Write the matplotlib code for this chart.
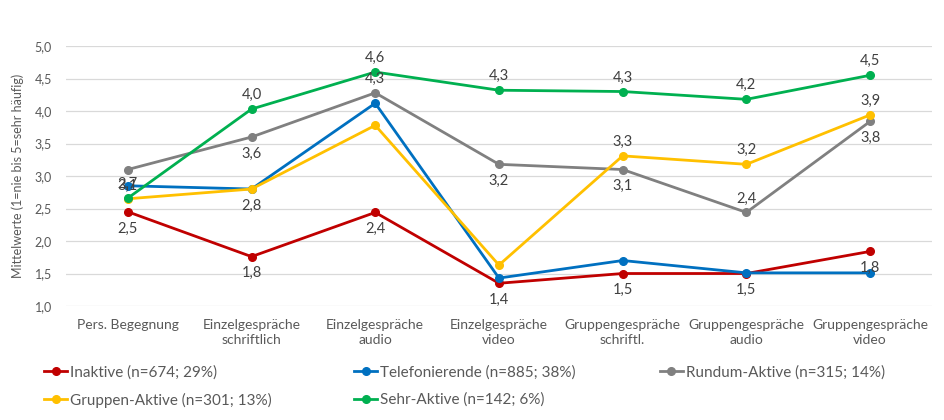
import numpy as np
import matplotlib
matplotlib.use("Agg")
import matplotlib.pyplot as plt
from matplotlib.ticker import FuncFormatter

plt.rcParams['font.family'] = ['Lato', 'DejaVu Sans']

CATEGORIES = ["Pers. Begegnung", "Einzelgespräche\nschriftlich", "Einzelgespräche\naudio",
              "Einzelgespräche\nvideo", "Gruppengespräche\nschriftl.", "Gruppengespräche\naudio",
              "Gruppengespräche\nvideo"]

SERIES_NAMES = ["Inaktive (n=674; 29%)", "Telefonierende (n=885; 38%)", "Rundum-Aktive (n=315; 14%)",
                "Gruppen-Aktive (n=301; 13%)", "Sehr-Aktive (n=142; 6%)"]

INAKTIVE       = [2.45, 1.76, 2.44, 1.35, 1.50, 1.50, 1.84]
TELEFONIERENDE = [2.85, 2.80, 4.12, 1.43, 1.70, 1.51, 1.51]
RUNDUM_AKTIVE  = [3.10, 3.60, 4.28, 3.18, 3.10, 2.44, 3.84]
GRUPPEN_AKTIVE = [2.65, 2.80, 3.78, 1.63, 3.31, 3.18, 3.94]
SEHR_AKTIVE    = [2.66, 4.03, 4.60, 4.32, 4.30, 4.18, 4.55]

# which points carry a data label: "a" = above, "b" = below, None = no label
LABELS_INAKTIVE = ["b"] * 7
LABELS_TELEFON  = [None] * 7
LABELS_RUNDUM   = ["b", "b", "a", "b", "b", "a", "b"]
LABELS_GRUPPEN  = [None, "b", None, None, "a", "a", "a"]
LABELS_SEHR     = ["a"] * 7

COLORS = ["#C00000", "#0070C0", "#808080", "#FFC000", "#00B050"]

###############################################################################

def comma(v, pos=None):
    ''' German decimal format with one digit '''
    return f"{v:.1f}".replace('.', ',')

fig = plt.figure(figsize=(9.45, 4.2), dpi=100)
ax = fig.add_axes([0.0698, 0.2714, 0.9164, 0.619])

values = [INAKTIVE, TELEFONIERENDE, RUNDUM_AKTIVE, GRUPPEN_AKTIVE, SEHR_AKTIVE]
labels = [LABELS_INAKTIVE, LABELS_TELEFON, LABELS_RUNDUM, LABELS_GRUPPEN, LABELS_SEHR]
x = np.arange(len(CATEGORIES))

handles = []
for i, (vals, labs, name, col) in enumerate(zip(values, labels, SERIES_NAMES, COLORS)):
    h, = ax.plot(x, vals, color=col, lw=2.0, marker='o', markersize=5.5, label=name,
                 zorder=3 + i, solid_joinstyle='round')
    handles.append(h)
    for xi, v, lab in zip(x, vals, labs):
        if lab is None:
            continue
        if lab == "a":
            ax.annotate(comma(v), (xi, v), xytext=(0, 5), textcoords='offset points',
                        ha='center', va='bottom', fontsize=10.5, color='#404040', zorder=10)
        else:
            ax.annotate(comma(v), (xi, v), xytext=(0, -7), textcoords='offset points',
                        ha='center', va='top', fontsize=10.5, color='#404040', zorder=10)

ax.set_xlim(-0.5, len(CATEGORIES) - 0.5)
ax.set_ylim(1.0, 5.0)
ax.set_yticks(np.arange(1.0, 5.01, 0.5))
ax.yaxis.set_major_formatter(FuncFormatter(comma))
ax.set_xticks(x)
ax.set_xticklabels(CATEGORIES, fontsize=10, color='#595959', linespacing=1.35)
ax.tick_params(axis='y', labelsize=9, colors='#595959', length=0, pad=10)
ax.tick_params(axis='x', length=0, pad=9)
ax.grid(axis='y', color='#D9D9D9', lw=0.9)
ax.set_axisbelow(True)
for s in ax.spines.values():
    s.set_visible(False)

ax.set_ylabel("Mittelwerte (1=nie bis 5=sehr häufig)", fontsize=9, color='#595959', labelpad=8)

# legend in three fixed-width columns, filled row by row
columns = [[0, 3], [1, 4], [2]]
col_x = [0.047, 0.375, 0.698]
for idx, cx in zip(columns, col_x):
    leg = fig.legend([handles[k] for k in idx], [SERIES_NAMES[k] for k in idx], ncol=1,
                     loc='upper left', bbox_to_anchor=(cx, 0.13), frameon=False, fontsize=11,
                     handlelength=1.5, handletextpad=0.2, labelspacing=0.85,
                     labelcolor='#595959', borderaxespad=0, borderpad=0)

fig.savefig("out.png", dpi=100)
